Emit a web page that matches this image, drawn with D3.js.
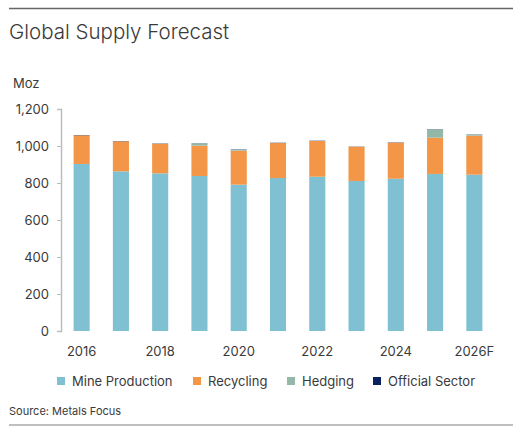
<!DOCTYPE html>
<html>
<head>
<meta charset="utf-8">
<script src="https://cdn.jsdelivr.net/npm/d3@7"></script>
<style>
  body { margin: 0; background: #fff; }
  svg text { font-family: Inter, "Noto Sans", sans-serif; fill: #3a3a3a; }
</style>
</head>
<body>
<div id="chart"></div>
<script>
// Global supply forecast, stacked bars (Moz)

var years = ["2016", "2017", "2018", "2019", "2020", "2021", "2022", "2023", "2024", "2025", "2026F"];
var tickYears = ["2016", "2018", "2020", "2022", "2024", "2026F"];
var mineProduction = [903, 863, 852, 838, 791, 827, 834, 811, 823, 849, 845];
var recycling = [155, 162, 160, 164, 184, 189, 193, 185, 195, 196, 211];
var hedging = [0, 0, 0, 12, 4, 0, 0, 0, 0, 44, 6];
var officialSector = [1.5, 1.5, 1.5, 1, 2, 1.5, 1.5, 1, 1.5, 1.5, 1];
var seriesNames = ["Mine Production", "Recycling", "Hedging", "Official Sector"];
var colors = ["#7fc1d3", "#f39647", "#93b8a8", "#0a2160"];

(function () {
  const W = 531, H = 431;
  const svg = d3.select("#chart").append("svg")
    .attr("width", W).attr("height", H);

  // top and bottom rules
  svg.append("line").attr("x1", 9).attr("x2", 513).attr("y1", 8.5).attr("y2", 8.5)
    .attr("stroke", "#666").attr("stroke-width", 1.5);
  svg.append("line").attr("x1", 9).attr("x2", 513).attr("y1", 425).attr("y2", 425)
    .attr("stroke", "#aaa").attr("stroke-width", 1.5);

  svg.append("text").attr("x", 9).attr("y", 39)
    .attr("font-size", "20.5px").attr("font-weight", 300)
    .text("Global Supply Forecast");

  svg.append("text").attr("x", 13).attr("y", 88)
    .attr("font-size", "13px").text("Moz");

  const rows = years.map((y, i) => ({
    year: y,
    "Mine Production": mineProduction[i],
    "Recycling": recycling[i],
    "Hedging": hedging[i],
    "Official Sector": officialSector[i]
  }));
  const stacked = d3.stack().keys(seriesNames)(rows);

  const x = d3.scaleBand().domain(years).range([62, 494]).paddingInner(0.59).paddingOuter(0.295);
  const y = d3.scaleLinear().domain([0, 1200]).range([331, 109]);

  const yAxis = svg.append("g")
    .attr("transform", "translate(61,0)")
    .call(d3.axisLeft(y).tickValues(d3.range(0, 1201, 200)).tickSize(4).tickPadding(8).tickFormat(d3.format(",")));
  yAxis.select(".domain").attr("stroke", "#bdbdbd").attr("stroke-width", 1.5);
  yAxis.selectAll(".tick line").attr("stroke", "#bdbdbd");
  yAxis.selectAll(".tick text").attr("font-size", "13px").attr("fill", "#3a3a3a")
    .attr("font-family", "Inter, 'Noto Sans', sans-serif");

  svg.append("g").selectAll("g")
    .data(stacked)
    .enter().append("g")
    .attr("fill", (d, i) => colors[i])
    .selectAll("rect")
    .data(d => d)
    .enter().append("rect")
    .attr("x", d => x(d.data.year))
    .attr("width", x.bandwidth())
    .attr("y", d => y(d[1]))
    .attr("height", d => Math.max(0, y(d[0]) - y(d[1])));

  svg.append("g").selectAll("text")
    .data(tickYears)
    .enter().append("text")
    .attr("x", d => x(d) + x.bandwidth() / 2)
    .attr("y", 356)
    .attr("text-anchor", "middle")
    .attr("font-size", "13px")
    .text(d => d);

  // legend
  const legendX = [57, 193, 287, 373];
  const legend = svg.append("g").selectAll("g")
    .data(seriesNames)
    .enter().append("g")
    .attr("transform", (d, i) => `translate(${legendX[i]},377)`);
  legend.append("rect").attr("width", 8).attr("height", 8)
    .attr("fill", (d, i) => colors[i]);
  legend.append("text").attr("x", 15).attr("y", 9)
    .attr("font-size", "13px").text(d => d);

  svg.append("text").attr("x", 9).attr("y", 415)
    .attr("font-size", "11px").text("Source: Metals Focus");
})();
</script>
</body>
</html>
